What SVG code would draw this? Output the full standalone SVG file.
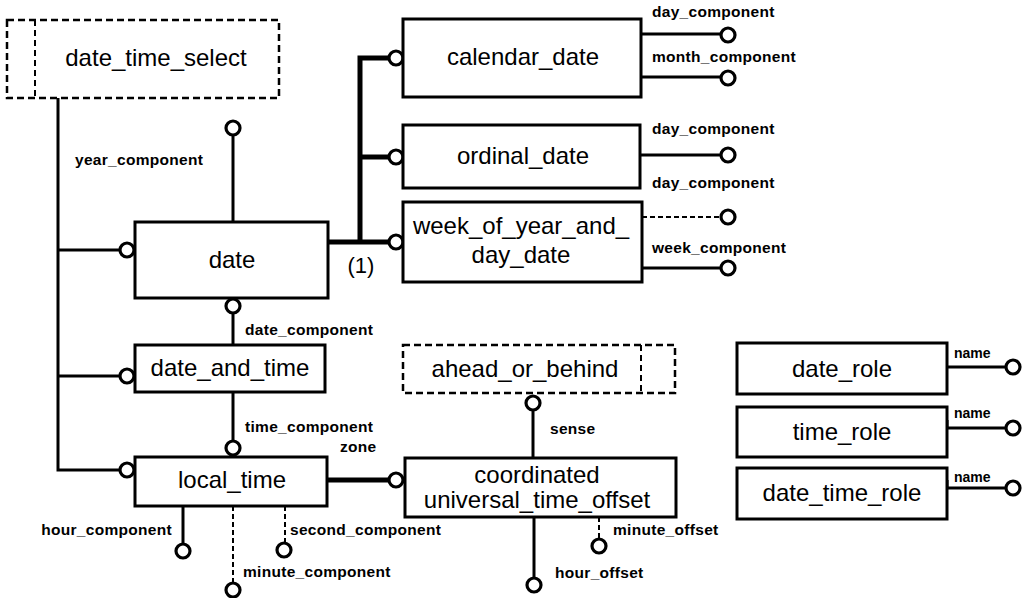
<svg xmlns="http://www.w3.org/2000/svg" width="1031" height="598" viewBox="0 0 1031 598">
<style>
.box{fill:#fff;stroke:#000;stroke-width:3}
.dbox{fill:#fff;stroke:#000;stroke-width:2.5;stroke-dasharray:7,4}
.dl{fill:none;stroke:#000;stroke-width:2;stroke-dasharray:6,4}
.ln{fill:none;stroke:#000;stroke-width:3}
.th{fill:none;stroke:#000;stroke-width:5}
.dash{fill:none;stroke:#000;stroke-width:2;stroke-dasharray:5,3}
.c{fill:#fff;stroke:#000;stroke-width:3.2}
.t{font-family:"Liberation Sans",Arial,sans-serif;font-size:24px;text-anchor:middle;fill:#000}
.a{font-family:"Liberation Sans",Arial,sans-serif;font-size:15.5px;font-weight:bold;letter-spacing:0.3px;fill:#000}
.s{font-family:"Liberation Sans",Arial,sans-serif;font-size:14px;font-weight:bold;fill:#000}
</style>
<rect width="1031" height="598" fill="#fff"/>
<g id="connectors">
  <path class="ln" d="M58,98 V470 H121"/>
  <path class="ln" d="M58,250 H121"/>
  <path class="ln" d="M58,376 H121"/>
  <path class="th" d="M328,242 H389"/>
  <path class="th" d="M360,242 V58 H389"/>
  <path class="th" d="M360,157 H389"/>
  <text class="t" x="361" y="273" style="font-size:22px">(1)</text>
  <path class="ln" d="M233,222 V135"/>
  <text class="a" x="75" y="165">year_component</text>
  <path class="ln" d="M233,313 V345"/>
  <text class="a" x="245" y="335">date_component</text>
  <path class="ln" d="M233,392 V441"/>
  <text class="a" x="245" y="432">time_component</text>
  <text class="a" x="340" y="452">zone</text>
  <path class="th" d="M327,480 H389"/>
  <path class="ln" d="M533,410 V458"/>
  <text class="a" x="550" y="434">sense</text>
  <path class="ln" d="M183,506 V544"/>
  <text class="a" x="172" y="535" text-anchor="end">hour_component</text>
  <path class="dash" d="M233,506 V583"/>
  <text class="a" x="243" y="577">minute_component</text>
  <path class="dash" d="M285,506 V543"/>
  <text class="a" x="290" y="535">second_component</text>
  <path class="ln" d="M534,517 V578"/>
  <text class="a" x="555" y="578">hour_offset</text>
  <path class="dash" d="M599,517 V539"/>
  <text class="a" x="613" y="535">minute_offset</text>
  <path class="ln" d="M641,34 H721"/>
  <text class="a" x="652" y="17">day_component</text>
  <path class="ln" d="M641,77 H721"/>
  <text class="a" x="652" y="62">month_component</text>
  <path class="ln" d="M640,155 H721"/>
  <text class="a" x="652" y="134">day_component</text>
  <path class="dash" d="M642,217 H721"/>
  <text class="a" x="652" y="188">day_component</text>
  <path class="ln" d="M642,268 H721"/>
  <text class="a" x="652" y="253">week_component</text>
  <path class="ln" d="M947,367 H1006"/>
  <text class="s" x="954" y="358">name</text>
  <path class="ln" d="M947,420 V428 H1006"/>
  <text class="s" x="954" y="418">name</text>
  <path class="ln" d="M947,480 V488 H1006"/>
  <text class="s" x="954" y="482">name</text>
  <circle class="c" cx="127" cy="250" r="7"/>
  <circle class="c" cx="127" cy="376" r="7"/>
  <circle class="c" cx="127" cy="470" r="7"/>
  <circle class="c" cx="233" cy="128" r="7"/>
  <circle class="c" cx="233" cy="306" r="7"/>
  <circle class="c" cx="233" cy="448" r="7"/>
  <circle class="c" cx="396" cy="58" r="7"/>
  <circle class="c" cx="396" cy="157" r="7"/>
  <circle class="c" cx="396" cy="242" r="7"/>
  <circle class="c" cx="396" cy="480" r="7"/>
  <circle class="c" cx="533" cy="403" r="7"/>
  <circle class="c" cx="183" cy="551" r="7"/>
  <circle class="c" cx="233" cy="590" r="7"/>
  <circle class="c" cx="284" cy="550" r="7"/>
  <circle class="c" cx="534" cy="585" r="7"/>
  <circle class="c" cx="599" cy="546" r="7"/>
  <circle class="c" cx="728" cy="35" r="7"/>
  <circle class="c" cx="728" cy="78" r="7"/>
  <circle class="c" cx="728" cy="155" r="7"/>
  <circle class="c" cx="728" cy="217" r="7"/>
  <circle class="c" cx="728" cy="268" r="7"/>
  <circle class="c" cx="1013" cy="367" r="7"/>
  <circle class="c" cx="1013" cy="428" r="7"/>
  <circle class="c" cx="1013" cy="488" r="7"/>
</g>
<g id="date_time_select">
  <rect class="dbox" x="7" y="20" width="272" height="78"/>
  <path class="dl" d="M35,20 V98"/>
  <text class="t" x="156" y="66">date_time_select</text>
</g>
<g id="date">
  <rect class="box" x="135" y="222" width="193" height="76"/>
  <text class="t" x="232" y="268">date</text>
</g>
<g id="date_and_time">
  <rect class="box" x="135" y="345" width="190" height="47"/>
  <text class="t" x="230" y="376">date_and_time</text>
</g>
<g id="local_time">
  <rect class="box" x="135" y="457" width="192" height="49"/>
  <text class="t" x="232" y="488">local_time</text>
</g>
<g id="calendar_date">
  <rect class="box" x="403" y="19" width="238" height="78"/>
  <text class="t" x="523" y="65">calendar_date</text>
</g>
<g id="ordinal_date">
  <rect class="box" x="403" y="125" width="237" height="63"/>
  <text class="t" x="523" y="164">ordinal_date</text>
</g>
<g id="week_of_year_and_day_date">
  <rect class="box" x="403" y="202" width="239" height="80"/>
  <text class="t" x="521" y="234">week_of_year_and_</text>
  <text class="t" x="521" y="263">day_date</text>
</g>
<g id="ahead_or_behind">
  <rect class="dbox" x="403" y="345" width="272" height="48"/>
  <path class="dl" d="M641,345 V393"/>
  <text class="t" x="525" y="377">ahead_or_behind</text>
</g>
<g id="coordinated_universal_time_offset">
  <rect class="box" x="405" y="458" width="271" height="59"/>
  <text class="t" x="537" y="483">coordinated</text>
  <text class="t" x="537" y="508">universal_time_offset</text>
</g>
<g id="date_role">
  <rect class="box" x="737" y="343" width="210" height="51"/>
  <text class="t" x="842" y="377">date_role</text>
</g>
<g id="time_role">
  <rect class="box" x="737" y="407" width="210" height="50"/>
  <text class="t" x="842" y="440">time_role</text>
</g>
<g id="date_time_role">
  <rect class="box" x="737" y="468" width="210" height="51"/>
  <text class="t" x="842" y="501">date_time_role</text>
</g>
</svg>
